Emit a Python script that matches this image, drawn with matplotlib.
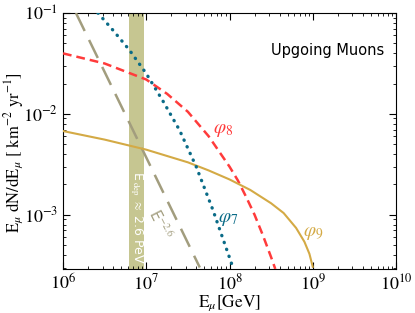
import matplotlib
matplotlib.use("Agg")
import matplotlib.pyplot as plt
import numpy as np

plt.rcParams['font.family'] = 'STIXGeneral'
plt.rcParams['mathtext.fontset'] = 'stix'

# data (GeV, km^-2 yr^-1)
e_phi7 = [2.63e6, 3.98e6, 6.31e6, 1e7, 1.58e7, 2.51e7, 3.98e7, 6.31e7, 1.1e8]
f_phi7 = [0.1, 0.0676, 0.0427, 0.0251, 0.0135, 0.0069, 0.0030, 0.00112, 0.0003]

e_phi8 = [1e6, 3.16e6, 1e7, 1.78e7, 3.16e7, 5.62e7, 1e8, 1.26e8, 1.58e8, 2.0e8, 2.51e8, 3.16e8, 3.55e8]
f_phi8 = [0.0398, 0.0316, 0.0219, 0.0158, 0.0105, 0.0060, 0.0030, 0.00219, 0.00151, 0.001, 0.00063, 0.00038, 0.00029]

e_phi9 = [1e6, 3.16e6, 1e7, 3.16e7, 5.62e7, 1e8, 1.78e8, 3.16e8, 4.47e8, 6.31e8, 7.94e8, 9.12e8, 1e9]
f_phi9 = [0.00676, 0.00556, 0.00442, 0.00331, 0.00275, 0.00224, 0.00176, 0.0013, 0.00104, 0.00074, 0.00054, 0.00041, 0.000305]

e_pow = [1.43e6, 4.4e7]
f_pow = [0.1, 0.0003]

band_lo, band_hi = 6.2e6, 9.4e6

fig = plt.figure(figsize=(4.15, 3.13), dpi=100)
ax = fig.add_axes([63/415, 44/313, 333/415, 256/313])

ax.axvspan(band_lo, band_hi, color='#c6c691', lw=0, zorder=1)
ax.text(np.sqrt(band_lo*band_hi), 9.3e-4, r'E$_{\rm \ dep}$ $\approx$ 2.6 PeV', rotation=270,
        color='white', ha='center', va='center', fontsize=9, family='DejaVu Sans', zorder=2)

ax.plot(e_pow, f_pow, color='#a29d7e', lw=1.8, dashes=(8, 4), zorder=3)
ax.plot(e_phi8, f_phi8, color='#ff3b3b', lw=1.8, dashes=(3.5, 2), zorder=4)
ax.plot(e_phi9, f_phi9, color='#d4aa45', lw=1.5, zorder=4)
ax.plot(e_phi7, f_phi7, color='#0a6b87', lw=2.4, linestyle=(0, (0.1, 2.1)),
        dash_capstyle='round', zorder=5)

ax.text(1.45e7, 8.0e-4, r'E$^{-2.6}$', rotation=-63, color='#a29d7e', fontsize=10.5,
        family='DejaVu Sans', ha='center', va='center')
ax.text(9.5e7, 9.0e-4, r'$\varphi_7$', color='#0a6b87', fontsize=14, ha='center', va='center')
ax.text(8.3e7, 6.9e-3, r'$\varphi_8$', color='#ff3b3b', fontsize=14, ha='center', va='center')
ax.text(1.0e9, 6.6e-4, r'$\varphi_9$', color='#d4aa45', fontsize=14, ha='center', va='center')
ax.text(0.795, 0.855, 'Upgoing Muons', transform=ax.transAxes, family='DejaVu Sans',
        fontsize=10.5, ha='center', va='center')

ax.set_xscale('log')
ax.set_yscale('log')
ax.set_xlim(1e6, 1e10)
ax.set_ylim(2.9e-4, 0.1)
ax.tick_params(which='both', direction='in', top=True, right=True, labelsize=13)
ax.tick_params(which='major', length=5)
ax.tick_params(which='minor', length=2.5)
ax.set_xlabel(r'E$_\mu$[GeV]', fontsize=12.5, labelpad=0)
ax.set_ylabel(r'E$_\mu$ dN/dE$_\mu$ [ km$^{-2}$ yr$^{-1}$]', fontsize=12)
ax.yaxis.set_label_coords(-0.112, 0.455)

fig.savefig('out.png', dpi=100)
